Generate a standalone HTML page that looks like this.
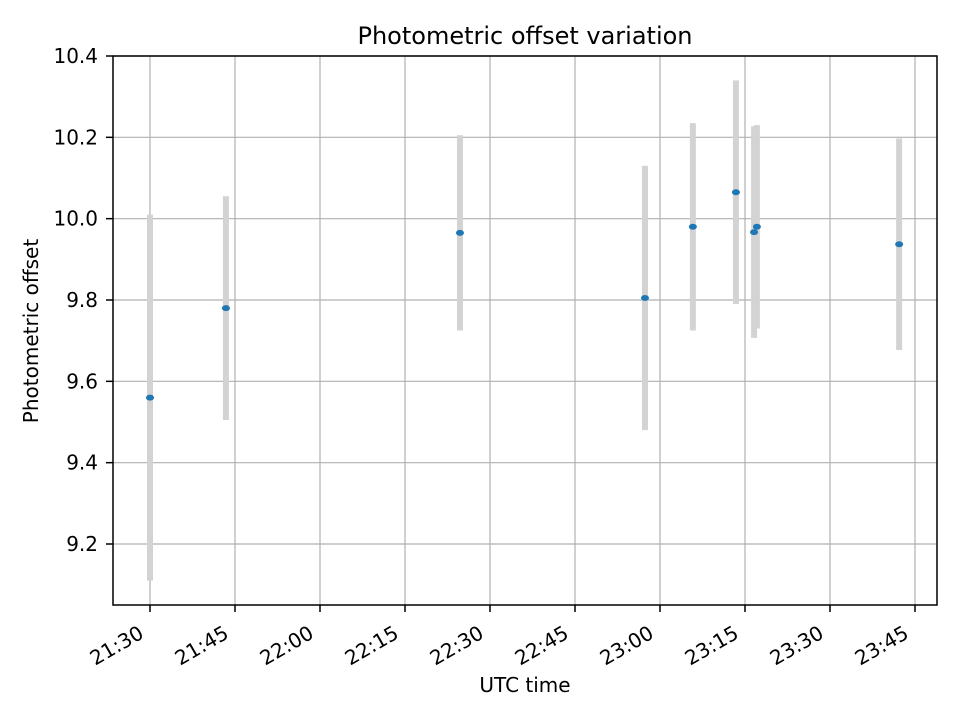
<!DOCTYPE html>
<html><head><meta charset="utf-8"><style>
body{margin:0;background:#fff;}
svg text{font-family:"DejaVu Sans","Liberation Sans",sans-serif;fill:#000;}
</style></head><body>
<svg id="chart" width="960" height="720" xmlns="http://www.w3.org/2000/svg">
<rect width="960" height="720" fill="#fff"/>
<g id="grid"></g>
<g id="bars"></g>
<g id="pts"></g>
<rect x="113" y="56" width="824" height="549" fill="none" stroke="#000" stroke-width="1.5"/>
<g id="ticks"></g>
<text x="525" y="44" font-size="24" text-anchor="middle">Photometric offset variation</text>
<text x="525" y="692" font-size="20" text-anchor="middle">UTC time</text>
<text transform="translate(38,331) rotate(-90)" font-size="20" text-anchor="middle">Photometric offset</text>
</svg>
<script>
const times=["21:30.0","21:43.4","22:24.7","22:57.35","23:05.8","23:13.4","23:16.6","23:17.1","23:42.2"];
const offsets=[9.56,9.78,9.965,9.805,9.98,10.065,9.967,9.98,9.937];
const errors=[0.45,0.275,0.24,0.325,0.255,0.275,0.26,0.25,0.26];
const yTicks=[9.2,9.4,9.6,9.8,10.0,10.2,10.4];
const xTicks=["21:30","21:45","22:00","22:15","22:30","22:45","23:00","23:15","23:30","23:45"];
const NS="http://www.w3.org/2000/svg";
function toMin(s){const [h,m]=s.split(":");return +h*60+parseFloat(m);}
function xs(t){return 150+(toMin(t)-1290)*85/15;}
function ys(v){return 544-(v-9.2)*(488/1.2);}
function mk(tag,attrs,parent){const e=document.createElementNS(NS,tag);for(const k in attrs)e.setAttribute(k,attrs[k]);parent.appendChild(e);return e;}
const grid=document.getElementById('grid'),ticks=document.getElementById('ticks'),bars=document.getElementById('bars'),pts=document.getElementById('pts');
yTicks.forEach(v=>{const y=ys(v);
 const g=mk('line',{x1:113,x2:937,y1:y,y2:y,stroke:'#b0b0b0','stroke-width':1.2},grid);
 
 
 const t=mk('line',{x1:106,x2:113,y1:y,y2:y,stroke:'#000','stroke-width':1.5},ticks);
 
 
 const l=mk('text',{x:98,y:y+7,'font-size':20,'text-anchor':'end'},ticks);l.textContent=v.toFixed(1);
 
 
});
xTicks.forEach(s=>{const x=xs(s);
 const g=mk('line',{x1:x,x2:x,y1:56,y2:605,stroke:'#b0b0b0','stroke-width':1.2},grid);
 
 
 const t=mk('line',{x1:x,x2:x,y1:605,y2:612,stroke:'#000','stroke-width':1.5},ticks);
 
 
 const l=mk('text',{transform:`translate(${x-5},${637}) rotate(-30)`,'font-size':20,'text-anchor':'end'},ticks);l.textContent=s;
 
 
});
times.forEach((t,i)=>{const x=xs(t);
 const b=mk('line',{x1:x,x2:x,y1:ys(offsets[i]+errors[i]),y2:ys(offsets[i]-errors[i]),stroke:'#d3d3d3','stroke-width':6},bars);
 
 
 const p=mk('ellipse',{cx:x,cy:ys(offsets[i]),rx:4,ry:3,fill:'#1f77b4'},pts);
 
 
});
</script>
</body></html>
